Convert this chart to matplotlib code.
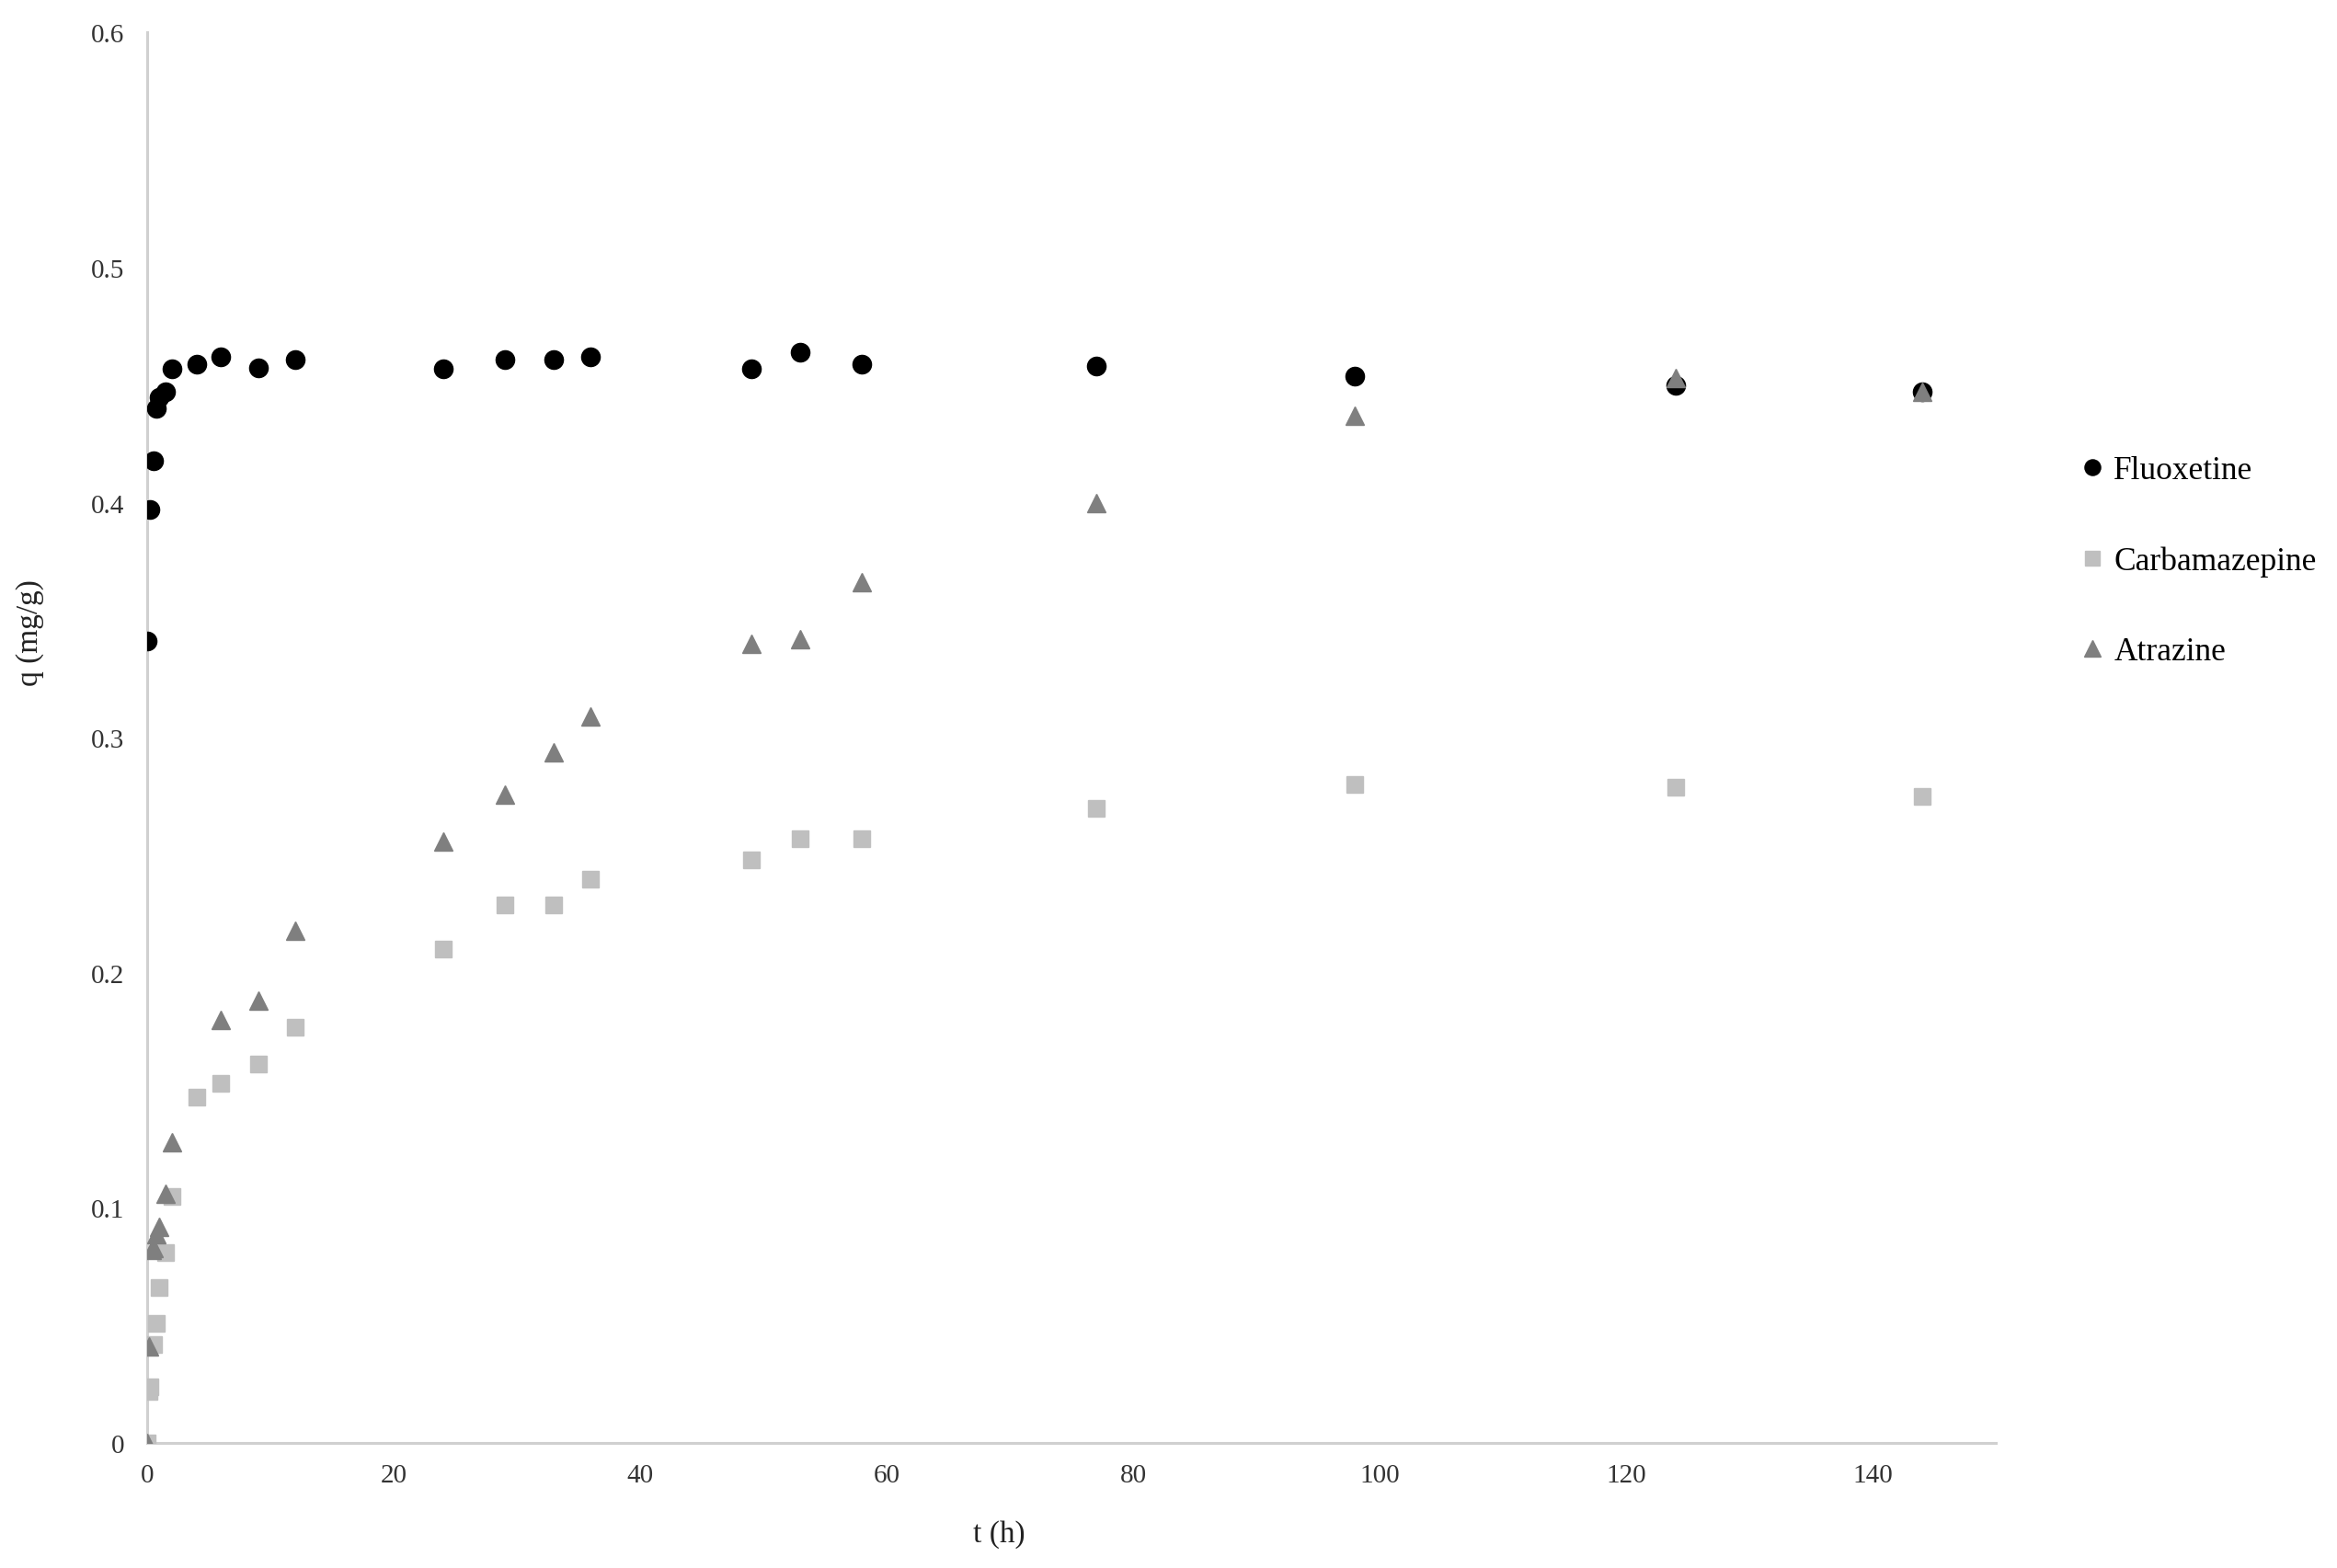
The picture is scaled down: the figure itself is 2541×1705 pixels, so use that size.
import matplotlib
matplotlib.use("Agg")
import matplotlib.pyplot as plt

plt.rcParams["font.family"] = ["Liberation Serif", "DejaVu Serif"]

# sampling times (h)
t_flx = [0, 0.25, 0.5, 0.75, 1, 1.5, 2, 4, 6, 9, 12, 24, 29, 33, 36, 49, 53, 58, 77, 98, 124, 144]
q_flx = [0.341, 0.397, 0.418, 0.440, 0.445, 0.447, 0.457, 0.459, 0.462, 0.4575, 0.461, 0.457,
         0.461, 0.461, 0.462, 0.457, 0.464, 0.459, 0.458, 0.454, 0.450, 0.447]

t_cbz = [0, 0.17, 0.25, 0.5, 0.75, 1, 1.5, 2, 4, 6, 9, 12, 24, 29, 33, 36, 49, 53, 58, 77, 98, 124, 144]
q_cbz = [0.0, 0.022, 0.024, 0.042, 0.051, 0.066, 0.081, 0.105, 0.147, 0.153, 0.161, 0.177, 0.210,
         0.229, 0.229, 0.240, 0.248, 0.257, 0.257, 0.270, 0.280, 0.279, 0.275]

t_atz = [0, 0.17, 0.33, 0.5, 0.75, 1, 1.5, 2, 6, 9, 12, 24, 29, 33, 36, 49, 53, 58, 77, 98, 124, 144]
q_atz = [0.0, 0.041, 0.082, 0.083, 0.089, 0.092, 0.106, 0.128, 0.180, 0.188, 0.218, 0.256,
         0.276, 0.294, 0.309, 0.340, 0.342, 0.366, 0.400, 0.437, 0.453, 0.447]

fig = plt.figure(figsize=(25.41, 17.06), dpi=100)
ax = fig.add_axes((0.063, 0.0797, 0.791, 0.899))

# later series sit on top, as in the original
ax.plot(t_flx, q_flx, "o", color="black", markersize=14.5, label="Fluoxetine", zorder=2)
ax.plot(t_cbz, q_cbz, "s", color="#bfbfbf", markersize=13, label="Carbamazepine", zorder=3)
ax.plot(t_atz, q_atz, "^", color="#7f7f7f", markersize=15, label="Atrazine", zorder=4)

ax.set_xlim(0, 150)
ax.set_ylim(0, 0.6)
ax.set_xticks(range(0, 141, 20))
ax.set_yticks([0, 0.1, 0.2, 0.3, 0.4, 0.5, 0.6])
ax.set_yticklabels(["0", "0.1", "0.2", "0.3", "0.4", "0.5", "0.6"])
ax.tick_params(length=0, labelsize=21, colors="#333333")
ax.tick_params(axis="y", pad=18)
ax.tick_params(axis="x", pad=16)
ax.spines["top"].set_visible(False)
ax.spines["right"].set_visible(False)
for side in ("left", "bottom"):
    ax.spines[side].set_color("#d0d0d0")
    ax.spines[side].set_linewidth(2.2)
    ax.spines[side].set_zorder(1)

ax.set_xlabel("t (h)", fontsize=24, color="#222222")
ax.set_ylabel("q (mg/g)", fontsize=24, color="#222222")
ax.xaxis.set_label_coords(0.461, -0.054)
ax.yaxis.set_label_coords(-0.056, 0.575)

fig.legend(loc="upper left", bbox_to_anchor=(0.878, 0.728), frameon=False, fontsize=25.5,
           handlelength=0.7, handletextpad=0.3, labelspacing=1.85, markerscale=0.85)

fig.savefig("out.png", dpi=100, facecolor="white")
